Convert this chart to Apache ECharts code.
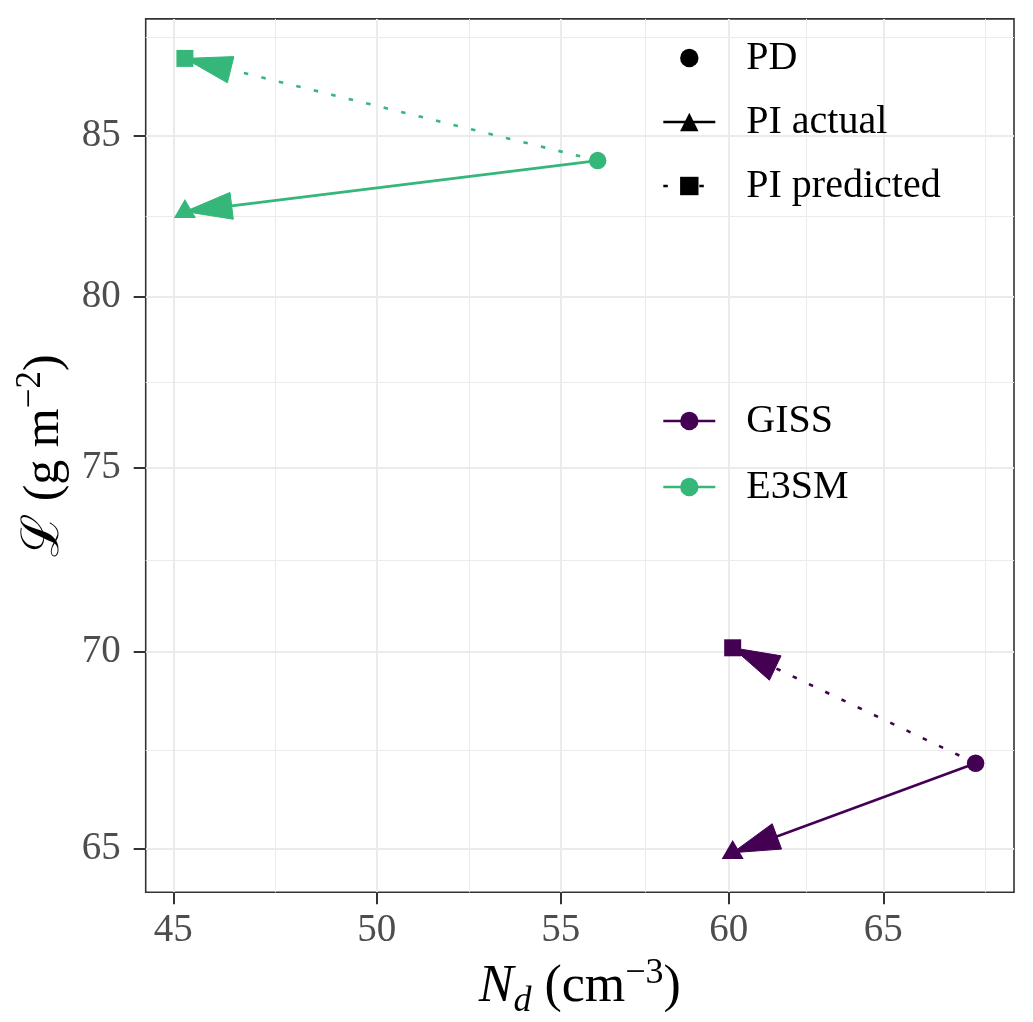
<!DOCTYPE html>
<html><head><meta charset="utf-8">
<script src="https://cdn.jsdelivr.net/npm/echarts@6/dist/echarts.min.js"></script>
<style>html,body{margin:0;padding:0;background:#fff}#c{width:1033px;height:1022px}</style>
</head><body><div id="c"></div>
<script>
// ---- data ----
const models = ['GISS', 'E3SM'];
const modelColors = ['#440154', '#35B779'];
const pdNd = [68.18, 56.06];
const pdL = [67.12, 84.20];
const piActualNd = [60.12, 45.27];
const piActualL = [64.90, 82.60];
const piPredNd = [60.12, 45.27];
const piPredL = [70.10, 87.50];
const shapeNames = ['PD', 'PI actual', 'PI predicted'];
const xTicks = [45, 50, 55, 60, 65];
const xMinorTicks = [47.43, 52.44, 57.45, 62.45, 68.52];
const yTicks = [65, 70, 75, 80, 85];
const yMinorTicks = [67.45, 72.46, 77.46, 82.46, 88.21];
const xRange = [44.36, 69.55];
const yRange = [63.94, 88.81];

const FONT = '"Liberation Serif","Times New Roman",serif';
const GRID_COL = '#EBEBEB';
const INK = '#333333';

const arrowData = [];
models.forEach((m, i) => {
  arrowData.push([pdNd[i], pdL[i], piActualNd[i], piActualL[i], 0, i]);
  arrowData.push([pdNd[i], pdL[i], piPredNd[i], piPredL[i], 1, i]);
});

function renderArrow(params, api) {
  const p0 = api.coord([api.value(0), api.value(1)]);
  const p1 = api.coord([api.value(2), api.value(3)]);
  const dotted = api.value(4) === 1;
  const color = modelColors[api.value(5)];
  const dx = p1[0] - p0[0], dy = p1[1] - p0[1];
  const len = Math.hypot(dx, dy);
  const ux = dx / len, uy = dy / len;
  const L = 49, a = 16 * Math.PI / 180;
  const back = L * Math.cos(a), half = L * Math.sin(a);
  const bx = p1[0] - ux * back, by = p1[1] - uy * back;
  const pts = [p1, [bx - uy * half, by + ux * half], [bx + uy * half, by - ux * half]];
  return {
    type: 'group',
    children: [
      { type: 'line', shape: { x1: p0[0], y1: p0[1], x2: p1[0], y2: p1[1] },
        style: { stroke: color, lineWidth: 2.6, lineDash: dotted ? [4.5, 13.5] : null, fill: null } },
      { type: 'polygon', shape: { points: pts }, style: { fill: color, stroke: color, lineWidth: 1 } }
    ]
  };
}

function pts(xs, ys) {
  return models.map((m, i) => ({ name: m, value: [xs[i], ys[i]], itemStyle: { color: modelColors[i], opacity: 1 } }));
}

const tickLabelStyle = { fontFamily: FONT, fontSize: 39, color: '#4D4D4D' };
const legendText = { fontFamily: FONT, fontSize: 40, color: '#000', lineHeight: 40, padding: [0, 0, 0, 26] };

const option = {
  animation: false,
  backgroundColor: '#fff',
  grid: { left: 145.7, right: 19, top: 18.9, bottom: 129.7, outerBoundsMode: 'none', containLabel: false,
          show: true, borderColor: INK, borderWidth: 1.6, backgroundColor: 'transparent' },
  xAxis: [
    {
      type: 'log', logBase: 10, min: xRange[0], max: xRange[1],
      axisLine: { show: false },
      axisTick: { show: true, length: 12, customValues: xTicks, lineStyle: { color: INK, width: 2 } },
      axisLabel: Object.assign({ customValues: xTicks, margin: 19 }, tickLabelStyle),
      splitLine: { show: true, lineStyle: { color: GRID_COL, width: 2 } },
      name: '{i|N}{sub|d}{n| (cm}{sup|\u22123}{n|)}',
      nameLocation: 'middle', nameGap: 58,
      nameTextStyle: {
        fontFamily: FONT, fontSize: 52, color: '#000',
        rich: {
          i: { fontFamily: FONT, fontSize: 52, fontStyle: 'italic', lineHeight: 64, color: '#000' },
          n: { fontFamily: FONT, fontSize: 52, lineHeight: 64, color: '#000' },
          sub: { fontFamily: FONT, fontSize: 36, fontStyle: 'italic', verticalAlign: 'bottom', color: '#000' },
          sup: { fontFamily: FONT, fontSize: 36, verticalAlign: 'top', color: '#000' }
        }
      }
    },
    {
      type: 'log', logBase: 10, min: xRange[0], max: xRange[1], position: 'bottom',
      axisLine: { show: false },
      axisTick: { show: false, customValues: xMinorTicks },
      axisLabel: { show: false },
      splitLine: { show: true, lineStyle: { color: GRID_COL, width: 1 } }
    }
  ],
  yAxis: [
    {
      type: 'log', logBase: 10, min: yRange[0], max: yRange[1],
      axisLine: { show: false },
      axisTick: { show: true, length: 12, customValues: yTicks, lineStyle: { color: INK, width: 2 } },
      axisLabel: Object.assign({ customValues: yTicks, margin: 25 }, tickLabelStyle),
      splitLine: { show: true, lineStyle: { color: GRID_COL, width: 2 } },
      name: '{s|\u2112}{n| (g m}{sup|\u22122}{n|)}',
      nameLocation: 'middle', nameGap: 70,
      nameTextStyle: {
        fontFamily: FONT, fontSize: 50, color: '#000',
        rich: {
          s: { fontFamily: FONT, fontSize: 52, lineHeight: 62, color: '#000' },
          n: { fontFamily: FONT, fontSize: 50, lineHeight: 62, color: '#000' },
          sup: { fontFamily: FONT, fontSize: 35, verticalAlign: 'top', color: '#000' }
        }
      }
    },
    {
      type: 'log', logBase: 10, min: yRange[0], max: yRange[1], position: 'left',
      axisLine: { show: false },
      axisTick: { show: false, customValues: yMinorTicks },
      axisLabel: { show: false },
      splitLine: { show: true, lineStyle: { color: GRID_COL, width: 1 } }
    }
  ],
  legend: [
    {
      data: shapeNames, orient: 'vertical', left: 657, top: 33, selectedMode: false,
      itemWidth: 52, itemHeight: 23, itemGap: 24,
      lineStyle: { width: 2.6 },
      textStyle: legendText
    },
    {
      data: models, orient: 'vertical', left: 657, top: 396, selectedMode: false,
      itemWidth: 52, itemHeight: 23, itemGap: 26,
      lineStyle: { width: 2.6 },
      textStyle: legendText
    }
  ],
  series: [
    {
      type: 'custom', name: 'arrows', renderItem: renderArrow, data: arrowData,
      encode: { x: [0, 2], y: [1, 3] }, z: 2, silent: true
    },
    { type: 'scatter', name: 'PD points', data: pts(pdNd, pdL), symbol: 'circle', symbolSize: 17.5, z: 3 },
    { type: 'scatter', name: 'PI actual points', data: pts(piActualNd, piActualL), symbol: 'triangle', symbolSize: [22, 19], symbolOffset: [0, -3.2], z: 3 },
    { type: 'scatter', name: 'PI predicted points', data: pts(piPredNd, piPredL), symbol: 'rect', symbolSize: 17, z: 3 },
    // legend-only series
    { type: 'line', name: shapeNames[0], data: [], symbol: 'circle', itemStyle: { color: '#000' }, lineStyle: { color: 'rgba(0,0,0,0)', width: 2.6 } },
    { type: 'line', name: shapeNames[1], data: [], symbol: 'triangle', itemStyle: { color: '#000' }, lineStyle: { color: '#000', width: 2.6 } },
    { type: 'line', name: shapeNames[2], data: [], symbol: 'rect', itemStyle: { color: '#000' }, lineStyle: { color: '#000', width: 2.6, type: [4.5, 13.5] } },
    { type: 'line', name: models[0], data: [], symbol: 'circle', itemStyle: { color: modelColors[0] }, lineStyle: { color: modelColors[0], width: 2.6 } },
    { type: 'line', name: models[1], data: [], symbol: 'circle', itemStyle: { color: modelColors[1] }, lineStyle: { color: modelColors[1], width: 2.6 } }
  ]
};

const chart = echarts.init(document.getElementById('c'), null, { renderer: 'canvas' });
chart.setOption(option);
</script>
</body></html>
